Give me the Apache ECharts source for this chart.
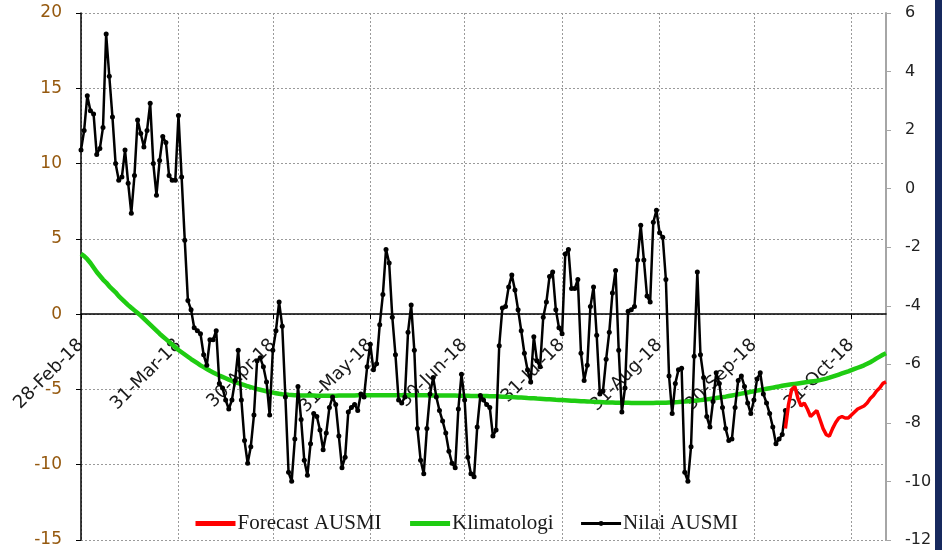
<!DOCTYPE html>
<html>
<head>
<meta charset="utf-8">
<script src="https://cdn.jsdelivr.net/npm/echarts@6/dist/echarts.min.js"></script>
<style>
  html, body { margin: 0; padding: 0; background: #ffffff; }
  #chart { width: 942px; height: 550px; }
</style>
</head>
<body>
<div id="chart"></div>
<script>
// Daily axis: 28 Feb 2018 onward
const startYear = 2018, startMonth = 1, startDay = 28;
const dayCount = 257;

// Month-end dates that carry a label and a vertical grid line
const monthTicks = ['28-Feb-18', '31-Mar-18', '30-Apr-18', '31-May-18', '30-Jun-18',
                    '31-Jul-18', '31-Aug-18', '30-Sep-18', '31-Oct-18'];

// Observed daily AUSMI index (from 28-Feb-18)
const nilaiAusmi = [
  10.9, 12.2, 14.5, 13.5, 13.3, 10.6, 11.0, 12.4, 18.6, 15.8,
  13.1, 10.0, 8.9, 9.1, 10.9, 8.7, 6.7, 9.2, 12.9, 12.0,
  11.1, 12.2, 14.0, 10.0, 7.9, 10.2, 11.8, 11.4, 9.2, 8.9,
  8.9, 13.2, 9.1, 4.9, 0.9, 0.3, -0.9, -1.1, -1.3, -2.7,
  -3.4, -1.7, -1.7, -1.1, -4.6, -4.9, -5.7, -6.3, -5.7, -4.4,
  -2.4, -5.7, -8.4, -9.9, -8.8, -6.7, -3.1, -2.9, -3.5, -4.5,
  -6.7, -2.4, -1.1, 0.8, -0.8, -5.5, -10.5, -11.1, -8.3, -4.8,
  -7.0, -9.7, -10.7, -8.6, -6.6, -6.8, -7.7, -9.0, -7.9, -6.2,
  -5.5, -6.0, -8.1, -10.2, -9.5, -6.5, -6.2, -6.0, -6.4, -5.3,
  -5.5, -3.5, -2.0, -3.7, -3.3, -0.7, 1.3, 4.3, 3.4, -0.2,
  -2.7, -5.7, -5.9, -5.5, -1.2, 0.6, -2.4, -7.6, -9.7, -10.6,
  -7.6, -5.3, -4.2, -5.5, -6.4, -7.1, -7.9, -9.1, -9.9, -10.2,
  -6.3, -4.0, -5.7, -9.5, -10.6, -10.8, -7.5, -5.4, -5.7, -6.0,
  -6.2, -8.1, -7.7, -2.1, 0.4, 0.5, 1.8, 2.6, 1.6, 0.3,
  -1.1, -2.6, -3.7, -4.5, -1.5, -3.1, -3.5, -0.2, 0.8, 2.5,
  2.8, 0.3, -0.9, -1.3, 4.0, 4.3, 1.7, 1.7, 2.3, -2.6,
  -4.4, -3.4, 0.5, 1.8, -1.4, -5.3, -5.1, -3.0, -1.2, 1.4,
  2.9, -2.4, -6.5, -4.9, 0.2, 0.3, 0.5, 3.6, 5.9, 3.6,
  1.2, 0.8, 6.1, 6.9, 5.4, 5.1, 2.3, -4.1, -6.6, -4.6,
  -3.7, -3.6, -10.5, -11.1, -8.8, -2.8, 2.8, -2.7, -4.2, -6.8,
  -7.5, -5.8, -3.9, -4.6, -6.2, -7.6, -8.4, -8.3, -6.2, -4.4,
  -4.1, -4.8, -5.9, -6.6, -5.7, -4.3, -3.9, -5.3, -5.9, -6.6,
  -7.5, -8.6, -8.3, -8.0, -6.4
];

// Forecast AUSMI, starting on day index forecastStart
const forecastStart = 224;
const forecastAusmi = [
  -7.6, -6.0, -5.0, -4.8, -5.6, -6.1, -5.9, -6.3, -6.8, -6.6,
  -6.4, -7.0, -7.6, -8.0, -8.1, -7.6, -7.2, -6.9, -6.8, -6.9,
  -6.9, -6.7, -6.5, -6.3, -6.2, -6.1, -5.9, -5.6, -5.4, -5.1,
  -4.9, -4.6, -4.5
];

// Daily climatology
const klimatologi = [
  4.00, 3.85, 3.65, 3.40, 3.10, 2.80, 2.55, 2.30, 2.10, 1.85,
  1.65, 1.45, 1.20, 1.00, 0.80, 0.60, 0.42, 0.25, 0.08, -0.10,
  -0.30, -0.50, -0.70, -0.90, -1.10, -1.30, -1.48, -1.66, -1.84, -2.02,
  -2.20, -2.38, -2.53, -2.68, -2.83, -2.98, -3.12, -3.26, -3.40, -3.52,
  -3.64, -3.76, -3.87, -3.98, -4.08, -4.17, -4.26, -4.35, -4.43, -4.51,
  -4.58, -4.65, -4.72, -4.79, -4.85, -4.91, -4.97, -5.02, -5.07, -5.12,
  -5.17, -5.21, -5.25, -5.29, -5.32, -5.34, -5.36, -5.37, -5.38, -5.39,
  -5.40, -5.40, -5.41, -5.41, -5.41, -5.42, -5.42, -5.42, -5.42, -5.42,
  -5.42, -5.42, -5.41, -5.41, -5.41, -5.40, -5.40, -5.40, -5.39, -5.39,
  -5.39, -5.38, -5.38, -5.38, -5.38, -5.38, -5.38, -5.38, -5.38, -5.38,
  -5.38, -5.38, -5.38, -5.38, -5.38, -5.38, -5.38, -5.39, -5.39, -5.39,
  -5.39, -5.40, -5.40, -5.40, -5.40, -5.40, -5.41, -5.41, -5.41, -5.41,
  -5.42, -5.42, -5.42, -5.42, -5.43, -5.43, -5.43, -5.44, -5.44, -5.44,
  -5.45, -5.45, -5.46, -5.47, -5.48, -5.49, -5.50, -5.51, -5.52, -5.53,
  -5.54, -5.55, -5.57, -5.58, -5.59, -5.61, -5.62, -5.63, -5.65, -5.66,
  -5.67, -5.69, -5.70, -5.71, -5.72, -5.73, -5.75, -5.76, -5.77, -5.78,
  -5.79, -5.80, -5.81, -5.82, -5.83, -5.84, -5.85, -5.86, -5.86, -5.87,
  -5.88, -5.88, -5.89, -5.89, -5.89, -5.90, -5.90, -5.90, -5.90, -5.90,
  -5.90, -5.90, -5.90, -5.89, -5.89, -5.88, -5.88, -5.87, -5.86, -5.85,
  -5.84, -5.82, -5.81, -5.79, -5.77, -5.75, -5.73, -5.71, -5.68, -5.66,
  -5.63, -5.60, -5.57, -5.54, -5.51, -5.48, -5.44, -5.40, -5.36, -5.32,
  -5.28, -5.24, -5.20, -5.16, -5.12, -5.08, -5.04, -5.00, -4.96, -4.92,
  -4.88, -4.84, -4.80, -4.76, -4.72, -4.69, -4.66, -4.63, -4.60, -4.57,
  -4.54, -4.51, -4.48, -4.45, -4.42, -4.38, -4.33, -4.28, -4.22, -4.15,
  -4.08, -4.01, -3.94, -3.87, -3.80, -3.72, -3.64, -3.56, -3.48, -3.40,
  -3.30, -3.19, -3.07, -2.94, -2.82, -2.70, -2.60
];

const monthNames = ['Jan','Feb','Mar','Apr','May','Jun','Jul','Aug','Sep','Oct','Nov','Dec'];
const categories = [];
for (let i = 0; i < dayCount; i++) {
  const d = new Date(Date.UTC(startYear, startMonth, startDay + i));
  categories.push(String(d.getUTCDate()).padStart(2, '0') + '-' +
                  monthNames[d.getUTCMonth()] + '-' +
                  String(d.getUTCFullYear()).slice(2));
}

const padTo = (arr, offset) => {
  const out = new Array(dayCount).fill(null);
  arr.forEach((v, i) => { out[offset + i] = v; });
  return out;
};

const isMonthTick = (idx) => monthTicks.indexOf(categories[idx]) >= 0;
const gridDots = { color: '#9a9a9a', width: 1, type: [2, 2] };

// Plot box and left-axis range; the category axis sits on the zero line
const plotTop = 13, plotBottom = 540, leftMin = -15, leftMax = 20;
const zeroOffset = -(plotBottom - plotTop) * (0 - leftMin) / (leftMax - leftMin);

const chart = echarts.init(document.getElementById('chart'), null, { renderer: 'canvas' });
chart.setOption({
  animation: false,
  backgroundColor: '#ffffff',
  grid: { left: 81, right: 56, top: plotTop, bottom: 550 - plotBottom,
          containLabel: false, outerBoundsMode: 'none' },
  legend: {
    data: [
      { name: 'Forecast AUSMI', itemStyle: { opacity: 0 }, lineStyle: { width: 5 } },
      { name: 'Klimatologi', itemStyle: { opacity: 0 }, lineStyle: { width: 5 } },
      { name: 'Nilai AUSMI', lineStyle: { width: 3 } }
    ],
    left: 193, top: 513, padding: 0,
    itemWidth: 40, itemHeight: 6, itemGap: 26,
    textStyle: { fontFamily: 'Liberation Serif', fontSize: 21, color: '#1a1a1a', padding: [0, 0, 0, -3] }
  },
  xAxis: {
    type: 'category',
    data: categories,
    boundaryGap: false,
    position: 'bottom',
    offset: zeroOffset,
    axisLine: { onZero: false, lineStyle: { color: '#000', width: 1.5 } },
    axisTick: { show: true, interval: isMonthTick, length: 5, lineStyle: { color: '#000' } },
    axisLabel: {
      interval: isMonthTick, rotate: 45, margin: 28,
      fontFamily: 'DejaVu Sans', fontSize: 18, color: '#1a1a1a'
    },
    splitLine: { show: true, interval: isMonthTick, lineStyle: gridDots }
  },
  yAxis: [
    {
      type: 'value', min: leftMin, max: leftMax, interval: 5, position: 'left',
      axisLine: { show: true, onZero: false, lineStyle: { color: '#000', width: 1.5 } },
      axisTick: { show: true, length: 5, lineStyle: { color: '#000' } },
      axisLabel: { margin: 19, fontFamily: 'DejaVu Sans', fontSize: 17, color: '#95590f' },
      splitLine: { show: true, lineStyle: gridDots }
    },
    {
      type: 'value', min: -12, max: 6, interval: 2, position: 'right',
      axisLine: { show: true, onZero: false, lineStyle: { color: '#a6a6a6', width: 2 } },
      axisTick: { show: true, length: 5, lineStyle: { color: '#a6a6a6' } },
      axisLabel: { margin: 19, fontFamily: 'DejaVu Sans', fontSize: 16, color: '#222' },
      splitLine: { show: false }
    }
  ],
  series: [
    {
      name: 'Klimatologi', type: 'line', yAxisIndex: 0, z: 2,
      data: klimatologi, symbol: 'none',
      lineStyle: { color: '#1fcc12', width: 4.5 }, itemStyle: { color: '#1fcc12' }
    },
    {
      name: 'Nilai AUSMI', type: 'line', yAxisIndex: 0, z: 3,
      data: padTo(nilaiAusmi, 0), symbol: 'circle', symbolSize: 5,
      showSymbol: true, showAllSymbol: true,
      lineStyle: { color: '#000', width: 2.5 }, itemStyle: { color: '#000' }
    },
    {
      name: 'Forecast AUSMI', type: 'line', yAxisIndex: 0, z: 4,
      data: padTo(forecastAusmi, forecastStart), symbol: 'none',
      lineStyle: { color: '#ff0000', width: 3.5 }, itemStyle: { color: '#ff0000' }
    }
  ],
  graphic: [
    { type: 'rect', right: 0, top: 0, shape: { width: 7, height: 550 },
      style: { fill: '#17295e' }, silent: true }
  ]
});
</script>
</body>
</html>
